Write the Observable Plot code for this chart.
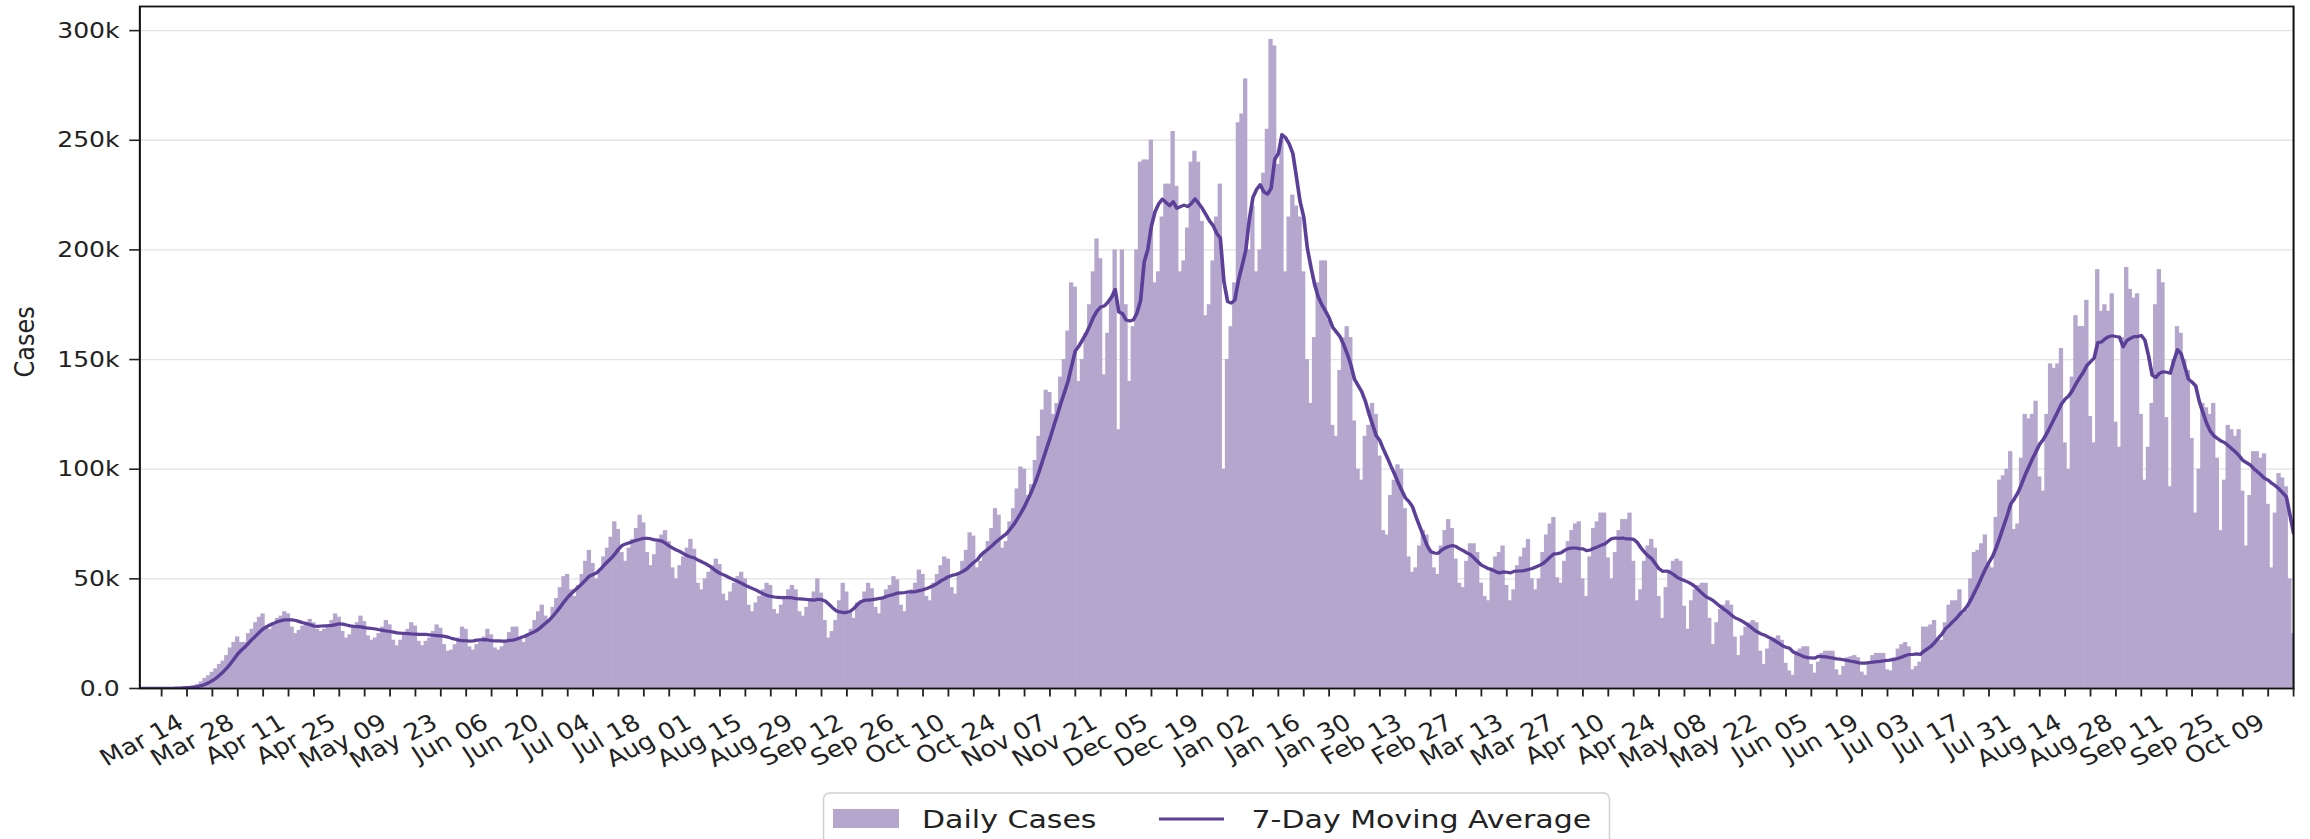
<!DOCTYPE html>
<html><head><meta charset="utf-8">
<script src="https://cdn.jsdelivr.net/npm/d3@7"></script>
<script src="https://cdn.jsdelivr.net/npm/@observablehq/plot@0.6"></script>
<style>
html,body{margin:0;padding:0;background:#fff;}
#wrap{position:relative;width:2310px;height:839px;overflow:hidden;background:#fff;}
#chart{position:absolute;left:0;top:0;transform-origin:0 0;transform:scaleX(1.14);}
#legend{position:absolute;left:0;top:0;}
</style></head><body>
<div id="wrap"><div id="chart"></div>
<svg id="legend" width="2310" height="839"></svg>
</div>
<script>
// ---- data (daily new cases, thousands), one row per week Sun..Sat, starting Sun 2020-03-01 ----
const startDate = "2020-03-01";
const endDate = "2021-10-16";
const dailyCasesK = [
  0.01, 0.02, 0.02, 0.03, 0.05, 0.07, 0.1,
  0.1, 0.15, 0.25, 0.35, 0.45, 0.6, 0.8,
  1.0, 1.3, 1.9, 3.0, 4.6, 5.8, 7.4,
  9, 11, 12.5, 15, 18.5, 21, 23.5,
  21, 21, 25, 27, 30, 32.5, 34,
  28, 27, 30, 32, 33, 35, 34,
  28, 25, 26.5, 28.5, 30, 31.5, 30,
  27, 26, 27, 29, 31, 34, 32.5,
  26, 23, 24.5, 27.5, 30, 33, 30.5,
  24, 22, 23, 25, 28, 31, 29,
  22, 19.5, 22, 24.5, 27, 30, 28.5,
  21.5, 19.5, 21.5, 23, 26, 29, 27.5,
  20, 17, 17.5, 20, 23, 28, 27,
  19, 17.5, 20, 21, 23.5, 27, 24.5,
  18.5, 17.5, 19, 21.5, 25.5, 28, 28,
  23, 21, 24.5, 27, 31, 35, 38,
  33, 31, 37, 41, 46, 51, 52,
  45, 42, 47, 52, 58, 63, 57,
  50, 53, 60, 64, 69, 76, 72.5,
  62, 58, 64, 68, 73, 79, 75.5,
  62, 56, 61, 67, 70, 72, 67,
  55, 50, 56, 60, 64, 68, 63.5,
  48, 45, 50, 53, 56, 59, 56.5,
  43, 40, 44, 48, 51, 53, 50,
  38, 35, 39, 42, 45, 48, 47,
  36, 34, 38, 42, 45, 47, 45,
  35, 33, 37, 41, 44, 50, 43.5,
  31, 23, 26, 31, 40, 48, 44,
  35, 32, 39, 40, 44, 48, 45.5,
  37, 34, 41, 45, 47, 51, 49.5,
  38, 35, 43, 45, 48, 54, 52,
  42, 40, 48, 52, 56, 60, 59,
  46, 43, 52, 58, 63, 71, 69.5,
  55, 58, 62, 67, 73, 82, 79,
  64, 67, 76, 82, 91, 101, 100,
  88, 93, 104, 115, 127, 136, 135,
  125, 130, 142, 150, 163, 185, 183,
  140, 150, 162, 175, 190, 205, 196,
  143, 162, 178, 200, 118, 200, 175,
  140, 165, 200, 240, 241, 241, 250,
  185, 190, 215, 230, 230, 254, 229,
  190, 195, 210, 240, 245, 240, 213,
  170, 175, 195, 215, 230, 100, 150,
  165, 185, 258, 262, 278, 200, 220,
  190, 200, 235, 255, 296, 293, 239,
  250, 190, 215, 225, 220, 215, 190,
  150, 130, 160, 185, 195, 195, 168,
  120, 115, 145, 160, 165, 160, 122,
  100, 95, 115, 120, 130, 125, 106,
  72, 70, 88, 95, 102, 100, 82,
  60, 53, 55, 65, 72, 70, 62.5,
  55, 52, 65, 72, 77, 73, 59,
  48, 46, 58, 66, 66, 62, 48,
  42, 40, 55, 60, 62, 65, 47,
  40, 45, 56, 60, 64, 68, 50,
  45, 50, 62, 70, 75, 78, 50.5,
  48, 58, 67, 72, 75, 76, 50,
  42, 60, 73, 76, 80, 80, 59.5,
  50, 62, 72, 77, 77, 80, 58,
  40, 45, 58, 65, 68, 64, 42,
  32, 46, 54, 58, 59, 58, 37.5,
  27, 40, 45, 47, 48, 48, 32,
  20, 30, 36, 38, 40, 38, 23.5,
  15, 24, 28, 30, 31, 30, 17,
  11, 18, 22, 23, 24, 22, 11.5,
  8, 6, 17, 18, 19, 19, 11,
  7, 12, 16, 17, 17, 17, 8.5,
  6, 10, 14, 14.5, 15, 14, 7.5,
  6, 12, 15, 16, 16, 16, 8.5,
  8, 14, 18, 20, 21, 19, 8.5,
  10, 12, 28, 28, 29, 31, 23,
  22, 30, 38, 40, 40, 45, 34,
  36, 50, 62, 63, 66, 70, 56,
  55, 78, 95, 97, 100, 108, 72.5,
  75, 105, 125, 123, 125, 131, 96.5,
  90, 125, 148, 146, 148, 155, 112,
  100, 142, 170, 165, 165, 177, 124,
  112, 191, 172, 175, 172, 180, 121.5,
  110, 160, 192, 182, 178, 180, 125,
  95, 110, 130, 175, 191, 185, 123.5,
  92, 150, 165, 162, 150, 145, 114,
  80, 100, 130, 128, 125, 130, 105,
  72, 95, 120, 118, 115, 118, 90,
  65, 88, 108, 108, 105, 107, 84,
  55, 80, 98, 96, 92, 50, 25
];
const xTickLabelDates = [
  "2020-03-14","2020-03-28","2020-04-11","2020-04-25","2020-05-09","2020-05-23","2020-06-06",
  "2020-06-20","2020-07-04","2020-07-18","2020-08-01","2020-08-15","2020-08-29","2020-09-12",
  "2020-09-26","2020-10-10","2020-10-24","2020-11-07","2020-11-21","2020-12-05","2020-12-19",
  "2021-01-02","2021-01-16","2021-01-30","2021-02-13","2021-02-27","2021-03-13","2021-03-27",
  "2021-04-10","2021-04-24","2021-05-08","2021-05-22","2021-06-05","2021-06-19","2021-07-03",
  "2021-07-17","2021-07-31","2021-08-14","2021-08-28","2021-09-11","2021-09-25","2021-10-09"
];
const yTicks = [0, 50000, 100000, 150000, 200000, 250000, 300000];
const yTickLabels = ["0.0", "50k", "100k", "150k", "200k", "250k", "300k"];
const seriesNames = ["Daily Cases", "7-Day Moving Average"];
const yLabel = "Cases";

const barColor = "#b4a6cd";
const lineColor = "#5b3f99";

const start = new Date(startDate + "T00:00:00Z");
const end = new Date(endDate + "T00:00:00Z");
const data = dailyCasesK.map((v, i) => ({date: d3.utcDay.offset(start, i), cases: v * 1000}));
const weeklyTicks = d3.utcSaturday.range(d3.utcDay.offset(start, 1), d3.utcDay.offset(end, 1));
const labelTicks = xTickLabelDates.map(s => new Date(s + "T00:00:00Z"));
const fmt = d3.utcFormat("%b %d");

const SX = 1.14;
const chart = Plot.plot({
  width: 2026, height: 780,
  marginLeft: 139.3 / SX, marginRight: 2026 - 2293 / SX, marginTop: 6, marginBottom: 92,
  x: {type: "utc", domain: [start, end]},
  y: {domain: [0, 311000]},
  style: {fontFamily: "DejaVu Sans", fontSize: "22px", color: "#222", background: "white"},
  marks: [
    Plot.gridY(yTicks, {stroke: "#e2e2e2", strokeOpacity: 1, strokeWidth: 1.3}),
    Plot.rectY(data, {
      x1: d => d3.utcHour.offset(d.date, -12), x2: d => d3.utcHour.offset(d.date, 12),
      y: "cases", fill: barColor, insetLeft: -0.3, insetRight: -0.3, clip: true
    }),
    Plot.lineY(data, Plot.windowY({k: 7, anchor: "end", reduce: "mean"},
      {x: "date", y: "cases", stroke: lineColor, strokeWidth: 3.2, clip: true})),
    Plot.frame({stroke: "#111", strokeWidth: 1.8}),
    Plot.axisY({ticks: yTicks, tickFormat: (d) => yTickLabels[yTicks.indexOf(d)], tickSize: 8.8, tickPadding: 9, label: null, fontSize: 22, strokeWidth: 1.6}),
    Plot.axisX({ticks: weeklyTicks, tickFormat: () => "", tickSize: 8.5, label: null, strokeWidth: 1.6}),
    Plot.axisX({ticks: labelTicks, tickFormat: fmt, tickSize: 0, tickRotate: -30, tickPadding: 32, dx: -5, label: null, fontSize: 23}),
    Plot.text([yLabel], {frameAnchor: "left", dx: -(139.3 - 25) / SX, dy: 30, rotate: -90, fontSize: 24, fill: "#222"})
  ]
});
document.getElementById("chart").appendChild(chart);

// ---- legend below the plot ----
const lg = d3.select("#legend");
lg.append("rect").attr("x", 823.5).attr("y", 793).attr("width", 786).attr("height", 60).attr("rx", 6)
  .attr("fill", "#fff").attr("stroke", "#d0d0d0").attr("stroke-width", 1.5);
lg.append("rect").attr("x", 833).attr("y", 809).attr("width", 66).attr("height", 19).attr("fill", barColor);
lg.append("text").attr("transform", "translate(922,828) scale(1.2,1)")
  .attr("font-family", "DejaVu Sans").attr("font-size", 25).attr("fill", "#222").text(seriesNames[0]);
lg.append("line").attr("x1", 1159).attr("x2", 1224).attr("y1", 819).attr("y2", 819)
  .attr("stroke", lineColor).attr("stroke-width", 3.2);
lg.append("text").attr("transform", "translate(1251.5,828) scale(1.2,1)")
  .attr("font-family", "DejaVu Sans").attr("font-size", 25).attr("fill", "#222").text(seriesNames[1]);
</script>
</body></html>
